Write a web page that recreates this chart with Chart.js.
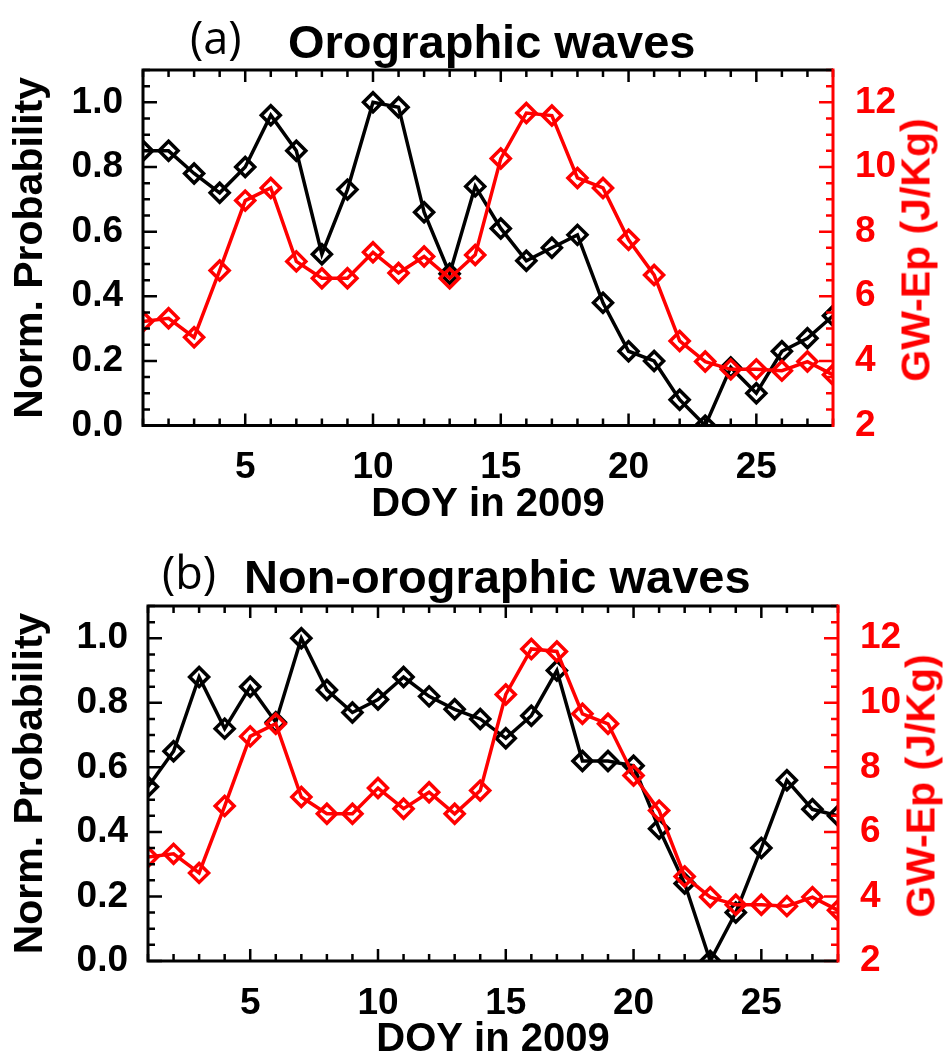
<!DOCTYPE html>
<html><head><meta charset="utf-8">
<script src="https://cdn.jsdelivr.net/npm/chart.js@4.4.1/dist/chart.umd.min.js"></script>
<style>
html,body{margin:0;padding:0;background:#fff;width:945px;height:1061px;overflow:hidden;}
#wrap{position:relative;width:945px;height:1061px;}
canvas{position:absolute;left:0;}
.ttl{position:absolute;white-space:nowrap;font-family:"Liberation Sans",Arial,sans-serif;font-weight:bold;color:#000;font-size:47px;line-height:1;}
.lab{position:absolute;white-space:nowrap;font-family:"Open Sans",sans-serif;font-weight:400;color:#000;font-size:45px;line-height:1;}
.rt{position:absolute;white-space:nowrap;font-family:"Liberation Sans",Arial,sans-serif;font-weight:bold;color:#f00;font-size:41px;line-height:1;transform:translate(-50%,-50%) rotate(-90deg);}
</style>
</head><body>
<div id="wrap">
<canvas id="cA" width="945" height="530" style="top:0;width:945px;height:530px"></canvas>
<canvas id="cB" width="945" height="531" style="top:530px;width:945px;height:531px"></canvas>
<div class="lab" style="left:190px;top:14px">(a)</div>
<div class="ttl" style="left:288px;top:18px">Orographic waves</div>
<div class="lab" style="left:162px;top:549px">(b)</div>
<div class="ttl" style="left:244px;top:553px">Non-orographic waves</div>
<div class="rt" style="left:916px;top:250px">GW-Ep (J/Kg)</div>
<div class="rt" style="left:921px;top:786px">GW-Ep (J/Kg)</div>
</div>
<script>
// ---- data ----
const doy = [1,2,3,4,5,6,7,8,9,10,11,12,13,14,15,16,17,18,19,20,21,22,23,24,25,26,27,28];
const probOrographic = [0.85,0.85,0.78,0.72,0.80,0.96,0.85,0.53,0.73,1.00,0.985,0.66,0.47,0.74,0.61,0.51,0.55,0.59,0.38,0.23,0.20,0.08,0.00,0.18,0.10,0.23,0.27,0.34];
const probNonOrographic = [0.54,0.65,0.88,0.72,0.85,0.74,1.00,0.84,0.77,0.81,0.88,0.82,0.78,0.75,0.69,0.76,0.90,0.62,0.62,0.605,0.41,0.24,0.00,0.15,0.35,0.56,0.47,0.45];
const gwEp = [5.22,5.32,4.73,6.80,8.96,9.35,7.08,6.56,6.56,7.36,6.72,7.23,6.56,7.28,10.26,11.67,11.59,9.66,9.35,7.75,6.66,4.62,3.98,3.74,3.74,3.70,3.98,3.57];
const xTicks = [5,10,15,20,25];
const leftTicks = [0.0,0.2,0.4,0.6,0.8,1.0];
const rightTicks = [2,4,6,8,10,12];
const xTitle = 'DOY in 2009';
const leftTitle = 'Norm. Probability';

const FONT = '"Liberation Sans", Arial, sans-serif';

const idlFrame = {
  id: 'idlFrame',
  afterDatasetsDraw(chart) {
    const {ctx, chartArea: a, scales} = chart;
    const x = scales.x, y = scales.y, y1 = scales.y1;
    ctx.save();
    ctx.lineWidth = 2.5;
    ctx.lineCap = 'butt';
    ctx.strokeStyle = '#000';
    ctx.beginPath();
    for (let d = Math.ceil(x.min); d <= x.max; d++) {
      const px = x.getPixelForValue(d);
      const len = xTicks.includes(d) ? 12 : 7;
      ctx.moveTo(px, a.bottom); ctx.lineTo(px, a.bottom - len);
      ctx.moveTo(px, a.top); ctx.lineTo(px, a.top + len);
    }
    for (let k = 0; k * 0.05 <= y.max + 1e-9; k++) {
      const py = y.getPixelForValue(k * 0.05);
      const len = (k % 4 === 0) ? 14 : 7;
      ctx.moveTo(a.left, py); ctx.lineTo(a.left + len, py);
    }
    ctx.stroke();
    ctx.strokeStyle = '#f00';
    ctx.beginPath();
    for (let k = 0; y1.min + k * 0.5 <= y1.max + 1e-9; k++) {
      const v = y1.min + k * 0.5;
      const py = y1.getPixelForValue(v);
      const len = (Math.abs(v % 2) < 1e-9) ? 14 : 7;
      ctx.moveTo(a.right, py); ctx.lineTo(a.right - len, py);
    }
    ctx.stroke();
    ctx.lineWidth = 3;
    ctx.strokeStyle = '#000';
    ctx.beginPath();
    ctx.moveTo(a.right, a.top); ctx.lineTo(a.left, a.top); ctx.lineTo(a.left, a.bottom); ctx.lineTo(a.right, a.bottom);
    ctx.stroke();
    ctx.strokeStyle = '#f00';
    ctx.beginPath();
    ctx.moveTo(a.right, a.top - 1.5); ctx.lineTo(a.right, a.bottom + 1.5);
    ctx.stroke();
    ctx.restore();
  }
};

function series(values, color, axis, order) {
  return {
    data: doy.map((d, i) => ({x: d, y: values[i]})),
    yAxisID: axis,
    borderColor: color,
    backgroundColor: 'rgba(0,0,0,0)',
    pointBorderColor: color,
    pointBackgroundColor: 'rgba(0,0,0,0)',
    pointStyle: 'rectRot',
    pointRadius: 9.5,
    pointBorderWidth: 3.5,
    borderWidth: 3.5,
    tension: 0,
    clip: 0,
    order: order
  };
}

function makePanel(id, prob, g) {
  new Chart(document.getElementById(id), {
    type: 'line',
    data: { datasets: [ series(gwEp, '#ff0000', 'y1', 0), series(prob, '#000000', 'y', 1) ] },
    plugins: [idlFrame],
    options: {
      responsive: false,
      animation: false,
      events: [],
      layout: { padding: { top: g.top, left: 0, right: 0, bottom: 0 } },
      plugins: { legend: {display: false}, tooltip: {enabled: false}, title: {display: false} },
      scales: {
        x: {
          type: 'linear', position: 'bottom', min: 1, max: 28,
          grid: {display: false}, border: {display: false},
          afterBuildTicks: s => { s.ticks = xTicks.map(v => ({value: v})); },
          afterFit: s => { s.height = g.H - g.bottom; },
          ticks: { color: '#000', font: {family: FONT, size: 37, weight: 'bold', lineHeight: 1}, padding: g.xpad, maxRotation: 0, autoSkip: false },
          title: { display: true, text: xTitle, color: '#000', font: {family: FONT, size: 40, weight: 'bold', lineHeight: 1}, padding: {top: 0, bottom: g.xtp} }
        },
        y: {
          type: 'linear', position: 'left', min: 0, max: 1.1,
          grid: {display: false}, border: {display: false},
          afterBuildTicks: s => { s.ticks = leftTicks.map(v => ({value: v})); },
          afterFit: s => { s.width = g.left; },
          ticks: { color: '#000', font: {family: FONT, size: 37, weight: 'bold', lineHeight: 1}, padding: 12, callback: v => v.toFixed(1) },
          title: { display: true, text: leftTitle, color: '#000', font: {family: FONT, size: 41, weight: 'bold', lineHeight: 1}, padding: {top: 10, bottom: 0} }
        },
        y1: {
          type: 'linear', position: 'right', min: 2, max: 13,
          grid: {display: false}, border: {display: false},
          afterBuildTicks: s => { s.ticks = rightTicks.map(v => ({value: v})); },
          afterFit: s => { s.width = 945 - g.right; },
          ticks: { color: '#ff0000', font: {family: FONT, size: 37, weight: 'bold', lineHeight: 1}, padding: 14, callback: v => String(v) }
        }
      }
    }
  });
}

makePanel('cA', probOrographic, {H: 530, top: 70, bottom: 425.6, left: 143, right: 833, xpad: 16, xtp: 5});
makePanel('cB', probNonOrographic, {H: 531, top: 76, bottom: 431, left: 148, right: 838, xpad: 16, xtp: 1});
</script>
</body></html>
